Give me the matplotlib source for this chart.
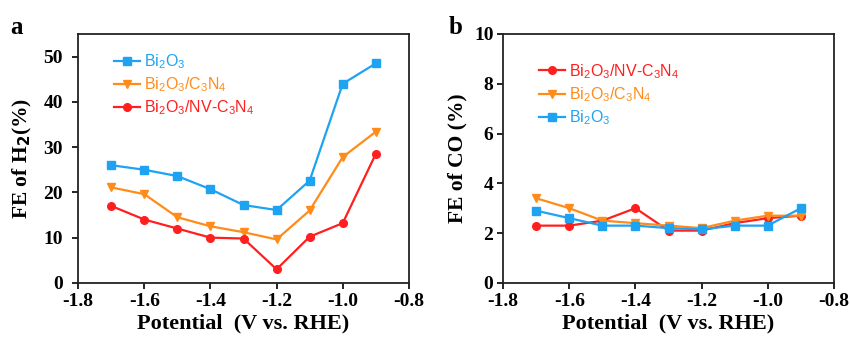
import numpy as np
from matplotlib import pyplot as plt

#%%  Datos

potential = [-1.7, -1.6, -1.5, -1.4, -1.3, -1.2, -1.1, -1.0, -0.9]

# FE de H2 (%)
h2_bi2o3 = [26.0, 25.0, 23.6, 20.7, 17.2, 16.1, 22.6, 44.0, 48.5]
h2_c3n4 = [21.1, 19.6, 14.5, 12.5, 11.2, 9.6, 16.0, 27.8, 33.4]
h2_nv = [17.0, 14.0, 12.0, 10.0, 9.8, 3.0, 10.2, 13.2, 28.5]

# FE de CO (%)
co_nv = [2.3, 2.3, 2.5, 3.0, 2.1, 2.1, 2.4, 2.6, 2.7]
co_c3n4 = [3.4, 3.0, 2.5, 2.4, 2.3, 2.2, 2.5, 2.7, 2.7]
co_bi2o3 = [2.9, 2.6, 2.3, 2.3, 2.2, 2.15, 2.3, 2.3, 3.0]

lbl_bi2o3 = r'Bi$_2$O$_3$'
lbl_c3n4 = r'Bi$_2$O$_3$/C$_3$N$_4$'
lbl_nv = r'Bi$_2$O$_3$/NV-C$_3$N$_4$'

c_blue = '#1ea3f2'
c_orange = '#ff8c1a'
c_red = '#ff1f1f'

#%%  Figura

plt.rcParams['mathtext.fontset'] = 'custom'
plt.rcParams['mathtext.rm'] = 'Liberation Sans'
plt.rcParams['mathtext.it'] = 'Liberation Sans'

serif = 'Liberation Serif'
fig = plt.figure(figsize=(8.5, 3.4), dpi=100)
ax1 = fig.add_axes([0.092, 0.168, 0.389, 0.732])
ax2 = fig.add_axes([0.592, 0.168, 0.389, 0.732])

kw = dict(lw=1.6, ms=5.5)
ax1.plot(potential, h2_bi2o3, '-s', color=c_blue, label=lbl_bi2o3, **kw)
ax1.plot(potential, h2_c3n4, '-v', color=c_orange, label=lbl_c3n4, **kw)
ax1.plot(potential, h2_nv, '-o', color=c_red, label=lbl_nv, **kw)

ax2.plot(potential, co_nv, '-o', color=c_red, label=lbl_nv, **kw)
ax2.plot(potential, co_c3n4, '-v', color=c_orange, label=lbl_c3n4, **kw)
ax2.plot(potential, co_bi2o3, '-s', color=c_blue, label=lbl_bi2o3, **kw)

ax1.set_ylim(0, 55)
ax1.set_yticks([0, 10, 20, 30, 40, 50])
ax2.set_ylim(0, 10)
ax2.set_yticks([0, 2, 4, 6, 8, 10])

for ax, ytop in ((ax1, 0.985), (ax2, 0.945)):
    ax.set_xlim(-1.8, -0.8)
    ax.set_xticks(np.arange(-1.8, -0.79, 0.2))
    ax.set_xticklabels(['-1.8', '-1.6', '-1.4', '-1.2', '-1.0', '-0.8'])
    ax.tick_params(direction='out', length=4, width=1.2, labelsize=14, pad=3)
    for t in ax.get_xticklabels() + ax.get_yticklabels():
        t.set_fontfamily(serif)
        t.set_fontweight('bold')
    for s in ax.spines.values():
        s.set_linewidth(1.3)
        s.set_color('#222222')
    ax.set_xlabel('Potential  (V vs. RHE)', fontfamily=serif, fontweight='bold',
                  fontsize=16, labelpad=3)
    leg = ax.legend(loc='upper left', bbox_to_anchor=(0.065, ytop), frameon=False,
                    handlelength=1.6, handletextpad=0.3, labelspacing=0.28,
                    prop={'family': 'Liberation Sans', 'size': 11.5})
    for txt, ln in zip(leg.get_texts(), leg.get_lines()):
        txt.set_color(ln.get_color())

ax1.tick_params(axis='y', pad=7)
ax1.set_ylabel(r'FE of H$_\mathbf{2}$(%)', fontfamily=serif, fontweight='bold',
               fontsize=15.5, labelpad=7)
ax2.set_ylabel('FE of CO (%)', fontfamily=serif, fontweight='bold', fontsize=15.5,
               labelpad=5)

fig.text(0.012, 0.9, 'a', fontfamily=serif, fontweight='bold', fontsize=18)
fig.text(0.528, 0.9, 'b', fontfamily=serif, fontweight='bold', fontsize=18)

fig.savefig('out.png', dpi=100)
